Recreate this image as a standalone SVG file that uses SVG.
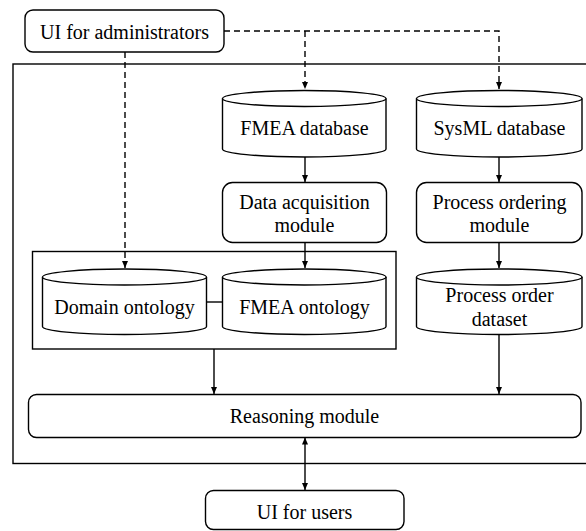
<svg xmlns="http://www.w3.org/2000/svg" width="586" height="531" viewBox="0 0 586 531">
<style>
.box{fill:#fff;stroke:#000;stroke-width:1.4}
.frame{fill:none;stroke:#000;stroke-width:1.4}
.t{font-family:"Liberation Serif","Times New Roman",serif;font-size:20px;fill:#000;text-anchor:middle}
.c{fill:none;stroke:#000;stroke-width:1.4}
.d{fill:none;stroke:#000;stroke-width:1.4;stroke-dasharray:6 4}
</style>
<defs>
<marker id="ah" markerWidth="8" markerHeight="8" refX="7" refY="4" orient="auto" markerUnits="userSpaceOnUse">
<path d="M0,1 L7,4 L0,7 Z" fill="#000"/>
</marker>
<marker id="ahs" markerWidth="8" markerHeight="8" refX="7" refY="4" orient="auto-start-reverse" markerUnits="userSpaceOnUse">
<path d="M0,1 L7,4 L0,7 Z" fill="#000"/>
</marker>
</defs>
<rect class="frame" x="13" y="64" width="600" height="399.5"/>
<rect class="frame" x="32.5" y="251.5" width="363.5" height="97.5"/>
<g id="connectors">
<path class="d" d="M224,31 H499 V89" marker-end="url(#ah)"/>
<path class="d" d="M305,31 V89" marker-end="url(#ah)"/>
<path class="d" d="M125,52 V268" marker-end="url(#ah)"/>
<path class="c" d="M305,157 V182" marker-end="url(#ah)"/>
<path class="c" d="M305,242.5 V268" marker-end="url(#ah)"/>
<path class="c" d="M499,157 V182" marker-end="url(#ah)"/>
<path class="c" d="M499,242.5 V268" marker-end="url(#ah)"/>
<path class="c" d="M214,349 V394" marker-end="url(#ah)"/>
<path class="c" d="M499,334.5 V394" marker-end="url(#ah)"/>
<path class="c" d="M305,437.5 V490" marker-start="url(#ahs)" marker-end="url(#ah)"/>
<path class="c" d="M206.5,302 H222.5"/>
</g>
<g id="ui-admin">
<rect class="box" x="25" y="10" width="199" height="42" rx="8"/>
<text class="t" x="124.5" y="38.5">UI for administrators</text>
</g>
<g id="fmea-db">
<path class="box" d="M222.5,98.5 V149 A81.75,8 0 0 0 386,149 V98.5"/>
<ellipse class="box" cx="304.25" cy="98.5" rx="81.75" ry="8"/>
<text class="t" x="304.5" y="135">FMEA database</text>
</g>
<g id="sysml-db">
<path class="box" d="M416.5,98.5 V149 A82.75,8 0 0 0 582,149 V98.5"/>
<ellipse class="box" cx="499.25" cy="98.5" rx="82.75" ry="8"/>
<text class="t" x="499.5" y="135">SysML database</text>
</g>
<g id="data-acq">
<rect class="box" x="222.5" y="182.5" width="164" height="60" rx="10"/>
<text class="t" x="304.5" y="208.5">Data acquisition</text>
<text class="t" x="304.5" y="232">module</text>
</g>
<g id="proc-ordering">
<rect class="box" x="416.5" y="182.5" width="165.5" height="60" rx="10"/>
<text class="t" x="499.5" y="208.5">Process ordering</text>
<text class="t" x="499.5" y="232">module</text>
</g>
<g id="domain-ontology">
<path class="box" d="M42.5,277 V326.5 A82,8 0 0 0 206.5,326.5 V277"/>
<ellipse class="box" cx="124.5" cy="277" rx="82" ry="8"/>
<text class="t" x="124.5" y="314">Domain ontology</text>
</g>
<g id="fmea-ontology">
<path class="box" d="M222.5,277 V326.5 A81.75,8 0 0 0 386,326.5 V277"/>
<ellipse class="box" cx="304.25" cy="277" rx="81.75" ry="8"/>
<text class="t" x="304.5" y="314">FMEA ontology</text>
</g>
<g id="process-order-dataset">
<path class="box" d="M416.5,277 V326.5 A82.75,8 0 0 0 582,326.5 V277"/>
<ellipse class="box" cx="499.25" cy="277" rx="82.75" ry="8"/>
<text class="t" x="499.5" y="301.5">Process order</text>
<text class="t" x="499.5" y="326">dataset</text>
</g>
<g id="reasoning">
<rect class="box" x="28.5" y="394.5" width="552.5" height="43" rx="8"/>
<text class="t" x="304.5" y="422.5">Reasoning module</text>
</g>
<g id="ui-users">
<rect class="box" x="205.5" y="490.5" width="198.5" height="39" rx="8"/>
<text class="t" x="304.5" y="518.5">UI for users</text>
</g>
</svg>
